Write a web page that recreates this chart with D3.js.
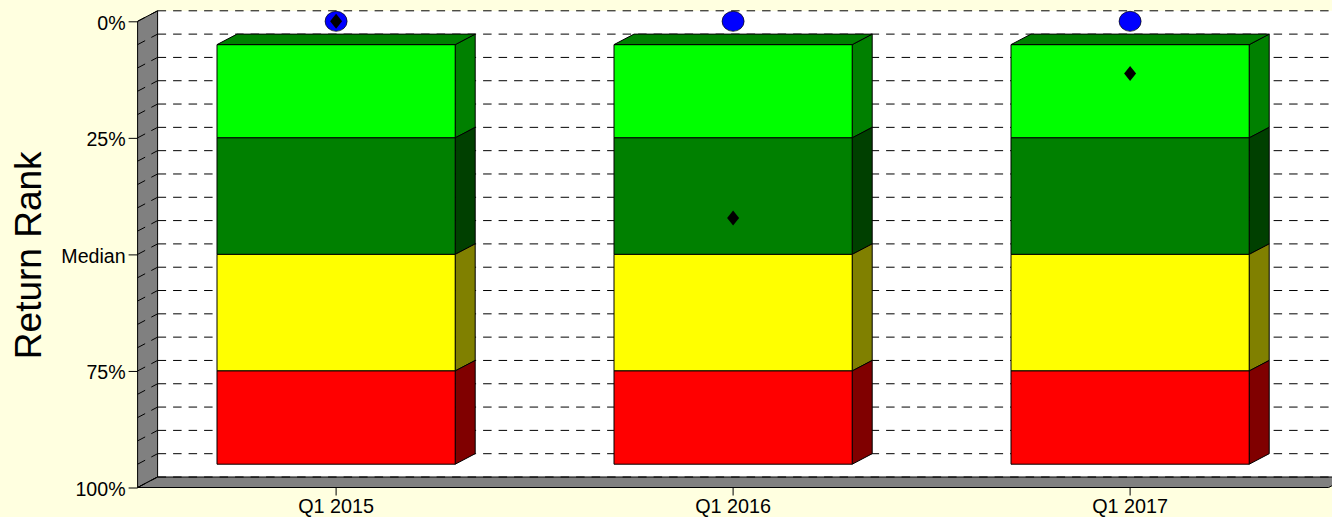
<!DOCTYPE html>
<html><head><meta charset="utf-8">
<script src="https://cdn.jsdelivr.net/npm/d3@7"></script>
<style>html,body{margin:0;padding:0;background:#ffffe0;overflow:hidden}svg{display:block}text{font-family:"Liberation Sans",Arial,sans-serif;fill:#000}</style>
</head><body><svg id="c" width="1332" height="517"></svg>
<script>
const categories = ["Q1 2015","Q1 2016","Q1 2017"];
const bandEdges = [5,25,50,75,95];
const bandFront = ["#00ff00","#008000","#ffff00","#ff0000"];
const bandSide = ["#008000","#004000","#808000","#800000"];
const medians = [0,0,0];
const fundRank = [0,42.2,11.2];
const gridRanks = d3.range(0,101,5);
const labelledRanks = [0,25,50,75,100];
const rankLabels = {0:"0%",25:"25%",50:"Median",75:"75%",100:"100%"};
const W=1332,H=517, dx=20, dy=-10.5;
const svg=d3.select("#c");
const x=d3.scaleBand().domain(categories).range([137.6,1328.6]).paddingInner(0.4).paddingOuter(0.2);
const y=d3.scaleLinear().domain([0,100]).range([21.3,487.5]);
const poly=(pts,fill,stroke)=>svg.append("polygon").attr("points",pts.map(p=>p.join(",")).join(" ")).attr("fill",fill).attr("stroke",stroke||"none").attr("stroke-width",1);
const [x0,x1]=x.range(), y0=y(0), y1=y(100);
// back wall, side wall, floor
poly([[x0+dx,y0+dy],[x1+dx,y0+dy],[x1+dx,y1+dy],[x0+dx,y1+dy]],"#fff");
poly([[x0,y0],[x0+dx,y0+dy],[x0+dx,y1+dy],[x0,y1]],"#808080","#000");
poly([[x0,y1],[x0+dx,y1+dy],[x1+dx,y1+dy],[x1,y1]],"#808080","#000");
// grid: wall and back segments restart their dash pattern
const grid=svg.append("g").attr("fill","none").attr("stroke","#000").attr("stroke-width",1).attr("stroke-dasharray","8.5,7");
gridRanks.forEach(r=>{
  grid.append("path").attr("d",`M${x0},${y(r)}L${x0+dx},${y(r)+dy}`);
  grid.append("path").attr("d",`M${x0+dx},${y(r)+dy}L${x1+dx},${y(r)+dy}`);
});
// bars
categories.forEach(c=>{
  const l=x(c), r=l+x.bandwidth();
  bandFront.forEach((f,i)=>{
    const a=y(bandEdges[i]), b=y(bandEdges[i+1]);
    poly([[r,a],[r+dx,a+dy],[r+dx,b+dy],[r,b]],bandSide[i],"#000");
    poly([[l,a],[r,a],[r,b],[l,b]],f,"#000");
  });
  const a=y(bandEdges[0]);
  poly([[l,a],[l+dx,a+dy],[r+dx,a+dy],[r,a]],bandSide[0],"#000");
});
// markers
categories.forEach((c,i)=>{
  const cx=x(c)+x.bandwidth()/2;
  svg.append("ellipse").attr("cx",cx).attr("cy",y(medians[i])).attr("rx",11).attr("ry",10).attr("fill","#0000ff").attr("stroke","#000").attr("stroke-width",.7);
  const yy=y(fundRank[i]);
  poly([[cx,yy-7.5],[cx+6,yy],[cx,yy+7.5],[cx-6,yy]],"#000");
});
// axes
const ax=svg.append("g").attr("transform",`translate(${x0},0)`).call(d3.axisLeft(y).tickValues(labelledRanks).tickSize(9).tickPadding(3).tickFormat(d=>rankLabels[d]));
ax.select(".domain").remove();
ax.selectAll("text").attr("font-size",19.6).style("font-family",'"Liberation Sans"').attr("dy",8);
const bx=svg.append("g").attr("transform",`translate(0,${y1})`).call(d3.axisBottom(x).tickSize(8).tickPadding(4));
bx.select(".domain").remove();
bx.selectAll("text").attr("font-size",19.8).style("font-family",'"Liberation Sans"').attr("y",25).attr("dy",0);
svg.append("text").attr("transform","translate(40.5,255.3) rotate(-90)").attr("text-anchor","middle").attr("font-size",37).text("Return Rank");
</script></body></html>
